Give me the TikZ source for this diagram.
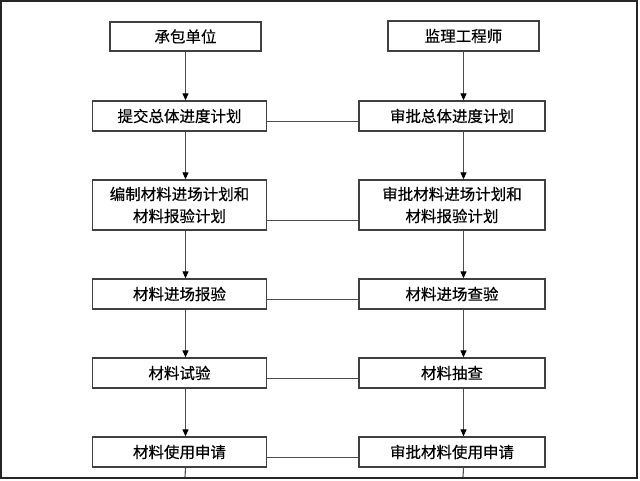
\documentclass[tikz,border=0pt]{standalone}
\usepackage{fontspec}
\setmainfont{Noto Sans CJK SC}[FakeBold=0.4]
\usetikzlibrary{arrows.meta}
\begin{document}
\begin{tikzpicture}[x=1pt,y=-1pt,
  box/.style={draw=black!75,line width=1.3pt,inner sep=0pt,align=center,
    font=\fontsize{15.5}{22}\selectfont,text=black},
  lbox/.style={box,minimum width=174pt,minimum height=30pt},
  rbox/.style={box,minimum width=186pt,minimum height=30pt},
  conn/.style={draw=black!70,line width=1.1pt},
  arr/.style={conn,-{Triangle[length=7pt,width=6pt,color=black]}}]
\useasboundingbox (0,0) rectangle (640,480);
\draw[line width=1.8pt,black!85] (1,0.8) rectangle (637,478);
% left column
\node[box,minimum width=151pt,minimum height=29pt] (a1) at (185.5,36.5) {承包单位};
\node[lbox] (a2) at (179.5,116) {提交总体进度计划};
\node[lbox,minimum height=50pt] (a3) at (179.5,205) {编制材料进场计划和\\材料报验计划};
\node[lbox] (a4) at (179.5,294) {材料进场报验};
\node[lbox] (a5) at (179.5,373) {材料试验};
\node[lbox] (a6) at (179.5,452) {材料使用申请};
% right column
\node[box,minimum width=151pt,minimum height=30pt] (b1) at (463.5,36) {监理工程师};
\node[rbox] (b2) at (452,116) {审批总体进度计划};
\node[rbox,minimum height=50pt] (b3) at (452,205) {审批材料进场计划和\\材料报验计划};
\node[rbox] (b4) at (452,294) {材料进场查验};
\node[rbox] (b5) at (452,373) {材料抽查};
\node[rbox] (b6) at (452,452) {审批材料使用申请};
\coordinate (ea) at (185,477);
\coordinate (eb) at (463,477);
% vertical arrows
\draw[arr] (a1.south) -- (a2.north -| a1);
\draw[arr] (a2.south -| a1) -- (a3.north -| a1);
\draw[arr] (a3.south -| a1) -- (a4.north -| a1);
\draw[arr] (a4.south -| a1) -- (a5.north -| a1);
\draw[arr] (a5.south -| a1) -- (a6.north -| a1);
\draw[conn] (a6.south -| a1) -- (ea);
\draw[arr] (b1.south) -- (b2.north -| b1);
\draw[arr] (b2.south -| b1) -- (b3.north -| b1);
\draw[arr] (b3.south -| b1) -- (b4.north -| b1);
\draw[arr] (b4.south -| b1) -- (b5.north -| b1);
\draw[arr] (b5.south -| b1) -- (b6.north -| b1);
\draw[conn] (b6.south -| b1) -- (eb);
% horizontal links
\foreach \i in {2,...,6}
  \draw[conn] ([yshift=10pt]a\i.south east) -- ([yshift=10pt]b\i.south west);
\end{tikzpicture}
\end{document}
